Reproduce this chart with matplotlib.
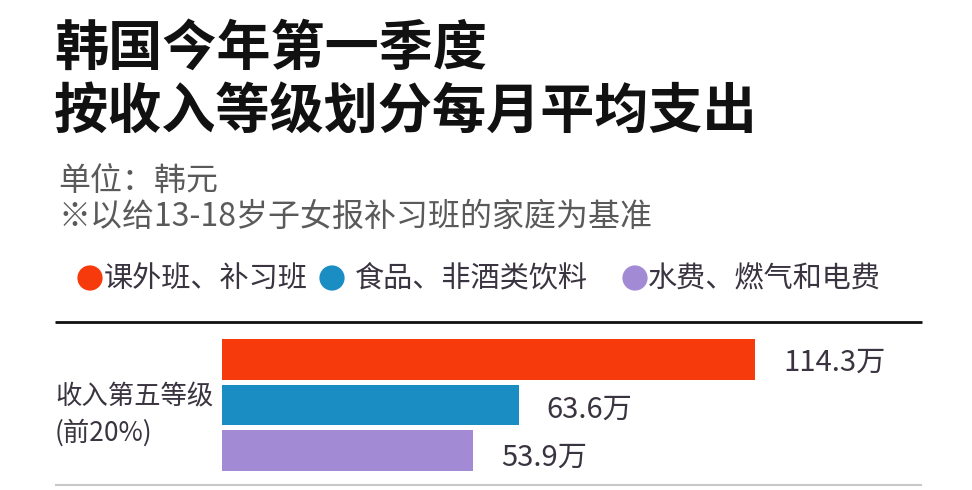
import matplotlib.pyplot as plt

plt.rcParams['font.family'] = ['Noto Sans CJK SC', 'DejaVu Sans']

# Data
title_lines = ['韩国今年第一季度', '按收入等级划分每月平均支出']
subtitle_lines = ['单位：韩元', '※以给13-18岁子女报补习班的家庭为基准']
categories = ['课外班、补习班', '食品、非酒类饮料', '水费、燃气和电费']
values = [114.3, 63.6, 53.9]
group_label = '收入第五等级\n(前20%)'
colors = ['#f73a0c', '#1a8ec3', '#a38ad4']

W, H = 972, 490
fig = plt.figure(figsize=(W / 100, H / 100), dpi=100)

# Overlay axes in pixel coordinates for titles, legend and rules
over = fig.add_axes([0, 0, 1, 1])
over.set_xlim(0, W)
over.set_ylim(H, 0)
over.axis('off')

over.text(54, 49, title_lines[0], fontsize=39, fontweight='heavy', color='#111111', va='center', ha='left')
over.text(54, 112, title_lines[1], fontsize=39, fontweight='heavy', color='#111111', va='center', ha='left')
over.text(58, 181, subtitle_lines[0], fontsize=23, color='#5a5a5a', va='center', ha='left')
over.text(58, 217, subtitle_lines[1], fontsize=23, color='#5a5a5a', va='center', ha='left')

# Legend: marker centres and text starts
legend_marker_x = [90, 332, 635]
legend_text_x = [104, 355, 648]
for i, cat in enumerate(categories):
    over.scatter(legend_marker_x[i], 278, s=330, color=colors[i], edgecolors='none')
    over.text(legend_text_x[i], 279, cat, fontsize=21, color='#3a3440', va='center', ha='left')

over.plot([55, 922], [322, 322], color='#111111', lw=2, solid_capstyle='butt')
over.plot([55, 922], [485, 485], color='#c8c8c8', lw=1.5, solid_capstyle='butt')

over.text(55, 397, group_label.split('\n')[0], fontsize=19, color='#3a3440', va='center', ha='left')
over.text(55, 433, group_label.split('\n')[1], fontsize=19, color='#3a3440', va='center', ha='left')

# Bar axes
left, right, top, bottom = 222, 922, 330, 480
ax = fig.add_axes([left / W, 1 - bottom / H, (right - left) / W, (bottom - top) / H])
px_per_unit = 533 / 114.3
ax.set_xlim(0, (right - left) / px_per_unit)
ax.set_ylim(2.65, -0.65)
ypos = list(range(len(values)))
ax.barh(ypos, values, height=0.89, color=colors)
for y, v in zip(ypos, values):
    ax.annotate(f'{v}万', (v, y), xytext=(28, -3 - 2 * y), textcoords='offset pixels',
                fontsize=21, color='#3a3440', va='center', ha='left')
ax.axis('off')

fig.savefig('out.png', dpi=100, facecolor='white')
